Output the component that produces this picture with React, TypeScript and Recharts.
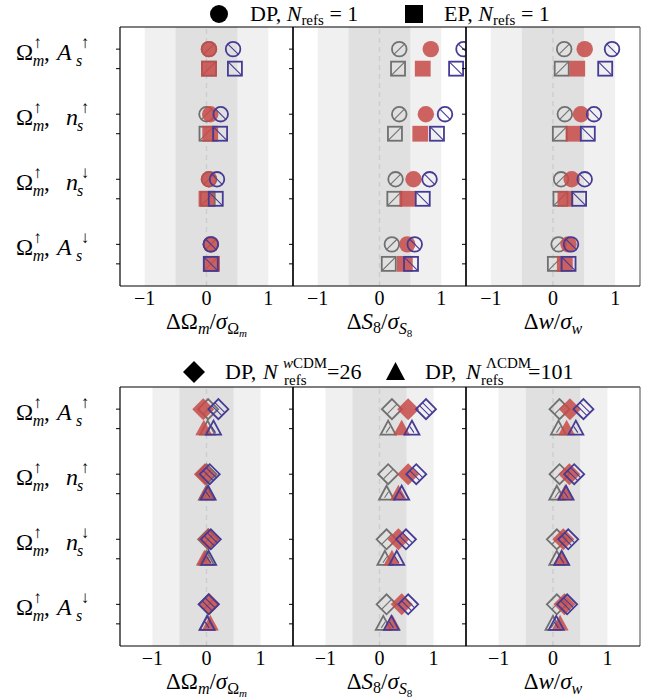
import React from 'react';
import { ScatterChart, Scatter, XAxis, YAxis, ReferenceArea, ReferenceLine } from 'recharts';

const W = 659;
const H = 700;
const FONT = '"Liberation Serif", "DejaVu Serif", serif';

// y position of each marker row: group index, second marker 0.3 below
const ROW_POS = [0, 0.3, 1, 1.3, 2, 2.3, 3, 3.3];
const Y_DOMAIN = [-0.34, 3.64];
const X_TICKS = [-1, 0, 1];
const GROUP_SECOND = ['A', 'n', 'n', 'A'];
const GROUP_ARROW = ['↑', '↑', '↓', '↓'];

// top row: circle = DP, square = EP (N_refs = 1); 8 rows per panel
const omTopGray = [0.04, 0.04, 0.0, 0.0, 0.04, 0.02, 0.07, 0.07];
const omTopRed = [0.04, 0.04, 0.06, 0.06, 0.04, 0.0, 0.07, 0.09];
const omTopBlue = [0.43, 0.46, 0.23, 0.22, 0.17, 0.15, 0.07, 0.07];
const s8TopGray = [0.32, 0.3, 0.32, 0.25, 0.26, 0.24, 0.2, 0.15];
const s8TopRed = [0.83, 0.7, 0.75, 0.66, 0.55, 0.45, 0.45, 0.41];
const s8TopBlue = [1.36, 1.24, 1.06, 0.93, 0.81, 0.7, 0.57, 0.51];
const wTopGray = [0.18, 0.14, 0.19, 0.11, 0.13, 0.12, 0.09, 0.03];
const wTopRed = [0.51, 0.39, 0.45, 0.33, 0.3, 0.2, 0.25, 0.19];
const wTopBlue = [0.95, 0.84, 0.66, 0.56, 0.51, 0.42, 0.29, 0.25];

// bottom row: diamond = wCDM refs (26), triangle = LCDM refs (101)
const omBotGray = [0.03, 0.02, 0.0, 0.0, 0.03, 0.0, 0.04, 0.02];
const omBotRed = [-0.06, -0.05, -0.03, 0.0, 0.04, -0.04, 0.05, 0.07];
const omBotBlue = [0.22, 0.13, 0.06, 0.03, 0.08, 0.04, 0.04, 0.01];
const s8BotGray = [0.23, 0.16, 0.16, 0.13, 0.13, 0.1, 0.13, 0.07];
const s8BotRed = [0.53, 0.41, 0.53, 0.35, 0.35, 0.23, 0.41, 0.24];
const s8BotBlue = [0.86, 0.6, 0.68, 0.41, 0.49, 0.32, 0.53, 0.22];
const wBotGray = [0.12, 0.1, 0.12, 0.07, 0.07, 0.07, 0.07, 0.0];
const wBotRed = [0.31, 0.25, 0.3, 0.22, 0.19, 0.16, 0.21, 0.13];
const wBotBlue = [0.56, 0.42, 0.39, 0.24, 0.28, 0.16, 0.26, 0.06];

const GRAY = '#707070';
const RED = '#c64a48';
const BLUE = '#463b94';

const COLS = [
  [120, 293],
  [293, 466],
  [466, 640],
];

const ROWS = [
  { top: 27, bottom: 286, domain: [-1.4, 1.4], shapes: ['circle', 'square'] },
  { top: 387, bottom: 646, domain: [-1.6, 1.6], shapes: ['diamond', 'triangle'] },
];

const PANELS = [
  { row: 0, col: 0, title: 'om', series: [omTopGray, omTopRed, omTopBlue] },
  { row: 0, col: 1, title: 's8', series: [s8TopGray, s8TopRed, s8TopBlue] },
  { row: 0, col: 2, title: 'w', series: [wTopGray, wTopRed, wTopBlue] },
  { row: 1, col: 0, title: 'om', series: [omBotGray, omBotRed, omBotBlue] },
  { row: 1, col: 1, title: 's8', series: [s8BotGray, s8BotRed, s8BotBlue] },
  { row: 1, col: 2, title: 'w', series: [wBotGray, wBotRed, wBotBlue] },
];

function Marker({ kind, tone, cx, cy }: any) {
  const color = tone === 'gray' ? GRAY : tone === 'red' ? RED : BLUE;
  const filled = tone === 'red';
  const sw = 1.8;
  const hatch = { stroke: color, strokeWidth: 1.1 };
  const slash = tone === 'gray'; // gray "/" hatch, blue "\" hatch

  if (kind === 'circle') {
    const r = 7.3;
    if (filled) return <circle cx={cx} cy={cy} r={r + 0.9} fill={RED} fillOpacity={0.85} />;
    const k = r * 0.7;
    return (
      <g>
        <circle cx={cx} cy={cy} r={r} fill="none" stroke={color} strokeWidth={sw} />
        {slash ? (
          <line x1={cx - k} y1={cy + k} x2={cx + k} y2={cy - k} {...hatch} />
        ) : (
          <line x1={cx - k} y1={cy - k} x2={cx + k} y2={cy + k} {...hatch} />
        )}
      </g>
    );
  }
  if (kind === 'square') {
    const s = 7;
    if (filled) return <rect x={cx - s - 0.9} y={cy - s - 0.9} width={2 * s + 1.8} height={2 * s + 1.8} fill={RED} fillOpacity={0.85} />;
    return (
      <g>
        <rect x={cx - s} y={cy - s} width={2 * s} height={2 * s} fill="none" stroke={color} strokeWidth={sw} />
        {slash ? (
          <line x1={cx - s} y1={cy + s} x2={cx + s} y2={cy - s} {...hatch} />
        ) : (
          <line x1={cx - s} y1={cy - s} x2={cx + s} y2={cy + s} {...hatch} />
        )}
      </g>
    );
  }
  if (kind === 'diamond') {
    const d = 10;
    const pts = `${cx - d},${cy} ${cx},${cy - d} ${cx + d},${cy} ${cx},${cy + d}`;
    if (filled) {
      const e = d + 1;
      return <polygon points={`${cx - e},${cy} ${cx},${cy - e} ${cx + e},${cy} ${cx},${cy + e}`} fill={RED} fillOpacity={0.85} />;
    }
    const lines = slash ? [0.5] : [0.35, 0.65];
    return (
      <g>
        <polygon points={pts} fill="none" stroke={color} strokeWidth={sw} />
        {lines.map((u) =>
          slash ? (
            <line key={u} x1={cx - d + u * d} y1={cy + u * d} x2={cx + u * d} y2={cy - d + u * d} {...hatch} />
          ) : (
            <line key={u} x1={cx - d + u * d} y1={cy - u * d} x2={cx + u * d} y2={cy + d - u * d} {...hatch} />
          )
        )}
      </g>
    );
  }
  // triangle
  const hw = 7.5;
  const pts = `${cx},${cy - 8} ${cx - hw},${cy + 6} ${cx + hw},${cy + 6}`;
  if (filled) return <polygon points={`${cx},${cy - 9} ${cx - hw - 1},${cy + 6.6} ${cx + hw + 1},${cy + 6.6}`} fill={RED} fillOpacity={0.85} />;
  return (
    <g>
      <polygon points={pts} fill="none" stroke={color} strokeWidth={sw} strokeLinejoin="miter" />
      {slash ? (
        <line x1={cx - 2} y1={cy + 4} x2={cx + 2} y2={cy - 2} {...hatch} />
      ) : (
        <line x1={cx - 2} y1={cy - 2} x2={cx + 2} y2={cy + 4} {...hatch} />
      )}
    </g>
  );
}

const makeShape = (tone: string) => (props: any) => {
  const { cx, cy, payload } = props;
  if (cx == null || cy == null) return <g />;
  return <Marker kind={payload.kind} tone={tone} cx={cx} cy={cy} />;
};

const XTick = (props: any) => {
  const { x, y, payload } = props;
  const v = payload.value;
  return (
    <text x={x} y={y + 19} textAnchor="middle" fontFamily={FONT} fontSize={20} fill="#000">
      {v < 0 ? '\u2212' + Math.abs(v) : String(v)}
    </text>
  );
};

const EmptyTick = () => <g />;

const YLabelTick = (props: any) => {
  const { y, payload } = props;
  const v = payload.value;
  if (!Number.isInteger(v)) return <g />;
  const second = GROUP_SECOND[v];
  const arrow = GROUP_ARROW[v];
  const isA = second === 'A';
  const t = { fontFamily: FONT, fill: '#000' };
  return (
    <g>
      <text x={16} y={y + 11} fontSize={23} {...t}>Ω</text>
      <text x={37.5} y={y - 1} fontSize={17} textAnchor="middle" {...t}>↑</text>
      <text x={38.5} y={y + 17} fontSize={16} fontStyle="italic" textAnchor="middle" {...t}>m</text>
      <text x={44} y={y + 11} fontSize={23} {...t}>,</text>
      <text x={isA ? 57 : 66} y={y + 11} fontSize={24} fontStyle="italic" {...t}>{second}</text>
      <text x={isA ? 85 : 85} y={y - 1} fontSize={17} textAnchor="middle" {...t}>{arrow}</text>
      <text x={isA ? 79 : 80} y={y + 17} fontSize={16} fontStyle="italic" textAnchor="middle" {...t}>s</text>
    </g>
  );
};

function AxisTitle({ kind, x, y }: any) {
  const t = { fontFamily: FONT, fill: '#000', fontSize: 23, textAnchor: 'middle' as const };
  if (kind === 'om')
    return (
      <text x={x} y={y} {...t}>
        ΔΩ<tspan fontStyle="italic" fontSize={16} dy={5}>m</tspan>
        <tspan dy={-5}>/</tspan>
        <tspan fontStyle="italic">σ</tspan>
        <tspan fontSize={16} dy={5}>Ω</tspan>
        <tspan fontStyle="italic" fontSize={11} dy={3}>m</tspan>
      </text>
    );
  if (kind === 's8')
    return (
      <text x={x} y={y} {...t}>
        Δ<tspan fontStyle="italic">S</tspan>
        <tspan fontSize={16} dy={4}>8</tspan>
        <tspan dy={-4}>/</tspan>
        <tspan fontStyle="italic">σ</tspan>
        <tspan fontStyle="italic" fontSize={16} dy={5}>S</tspan>
        <tspan fontSize={11} dy={3}>8</tspan>
      </text>
    );
  return (
    <text x={x} y={y} {...t}>
      Δ<tspan fontStyle="italic">w</tspan>/<tspan fontStyle="italic">σ</tspan>
      <tspan fontStyle="italic" fontSize={16} dy={5}>w</tspan>
    </text>
  );
}

function Panel({ panel }: any) {
  const row = ROWS[panel.row];
  const [left, right] = COLS[panel.col];
  const xAxisH = 50;
  const toData = (vals: number[]) =>
    vals.map((x, i) => ({ x, y: ROW_POS[i], kind: i % 2 === 0 ? row.shapes[0] : row.shapes[1] }));
  const tones = ['gray', 'red', 'blue'];
  const spine = panel.col === 2 ? '#666' : '#000';
  return (
    <div style={{ position: 'absolute', left: 0, top: 0 }}>
      <ScatterChart
        width={W}
        height={H}
        margin={{ left: left - 4, right: W - right, top: row.top, bottom: H - row.bottom - xAxisH }}
      >
        <XAxis
          type="number"
          dataKey="x"
          domain={row.domain}
          ticks={X_TICKS}
          allowDataOverflow
          height={xAxisH}
          tickLine={false}
          tickSize={0}
          tickMargin={0}
          interval={0}
          axisLine={{ stroke: '#000', strokeWidth: 1.2 }}
          tick={XTick}
        />
        <YAxis
          type="number"
          dataKey="y"
          domain={Y_DOMAIN}
          reversed
          allowDataOverflow
          ticks={ROW_POS}
          interval={0}
          width={4}
          tickSize={4}
          tickLine={{ stroke: '#000', strokeWidth: 1 }}
          axisLine={{ stroke: '#000', strokeWidth: 1.2 }}
          tick={panel.col === 0 ? YLabelTick : EmptyTick}
        />
        <ReferenceArea x1={-1} x2={1} fill="#f0f0f0" fillOpacity={1} strokeWidth={0} />
        <ReferenceArea x1={-0.5} x2={0.5} fill="#e0e0e0" fillOpacity={1} strokeWidth={0} />
        <ReferenceLine x={0} stroke="#cdcdcd" strokeWidth={1.5} strokeDasharray="5 4" />
        <ReferenceLine y={Y_DOMAIN[0]} stroke="#000" strokeWidth={1.2} />
        <ReferenceLine x={row.domain[1]} stroke={spine} strokeWidth={1.2} />
        {panel.series.map((vals: number[], i: number) => (
          <Scatter
            key={tones[i]}
            name={tones[i]}
            data={toData(vals)}
            shape={makeShape(tones[i])}
            isAnimationActive={false}
          />
        ))}
      </ScatterChart>
    </div>
  );
}

function Overlay() {
  const t = { fontFamily: FONT, fill: '#000' };
  return (
    <svg width={W} height={H} style={{ position: 'absolute', left: 0, top: 0 }}>
      {/* top legend */}
      <circle cx={219} cy={14} r={9} fill="#000" />
      <text x={250} y={21} fontSize={22} {...t}>
        DP, <tspan fontStyle="italic">N</tspan>
        <tspan fontSize={15} dy={4}>refs</tspan>
        <tspan dy={-4}> = 1</tspan>
      </text>
      <rect x={405} y={5} width={18} height={18} fill="#000" />
      <text x={444} y={21} fontSize={22} {...t}>
        EP, <tspan fontStyle="italic">N</tspan>
        <tspan fontSize={15} dy={4}>refs</tspan>
        <tspan dy={-4}> = 1</tspan>
      </text>

      {/* bottom legend */}
      <polygon points="183,372 194,361 205,372 194,383" fill="#000" />
      <text x={225} y={379} fontSize={22} {...t}>DP,</text>
      <text x={263} y={379} fontSize={22} fontStyle="italic" {...t}>N</text>
      <text x={283} y={368} fontSize={15} {...t}>
        <tspan fontStyle="italic">w</tspan>CDM
      </text>
      <text x={284} y={385} fontSize={15} {...t}>refs</text>
      <text x={327} y={379} fontSize={22} {...t}>=26</text>
      <polygon points="395.5,362 386,380 405,380" fill="#000" />
      <text x={425} y={379} fontSize={22} {...t}>DP,</text>
      <text x={466} y={379} fontSize={22} fontStyle="italic" {...t}>N</text>
      <text x={486} y={368} fontSize={15} {...t}>ΛCDM</text>
      <text x={481} y={385} fontSize={15} {...t}>refs</text>
      <text x={528} y={379} fontSize={22} {...t}>=101</text>

      {/* axis titles */}
      {PANELS.map((p) => {
        const [l, r] = COLS[p.col];
        return <AxisTitle key={`${p.row}-${p.col}`} kind={p.title} x={(l + r) / 2} y={ROWS[p.row].bottom + 43} />;
      })}
    </svg>
  );
}

export default function App() {
  return (
    <div style={{ position: 'absolute', left: 0, top: 0, width: W, height: H, background: '#fff' }}>
      <Overlay />
      {PANELS.map((p) => (
        <Panel key={`${p.row}-${p.col}`} panel={p} />
      ))}
    </div>
  );
}
